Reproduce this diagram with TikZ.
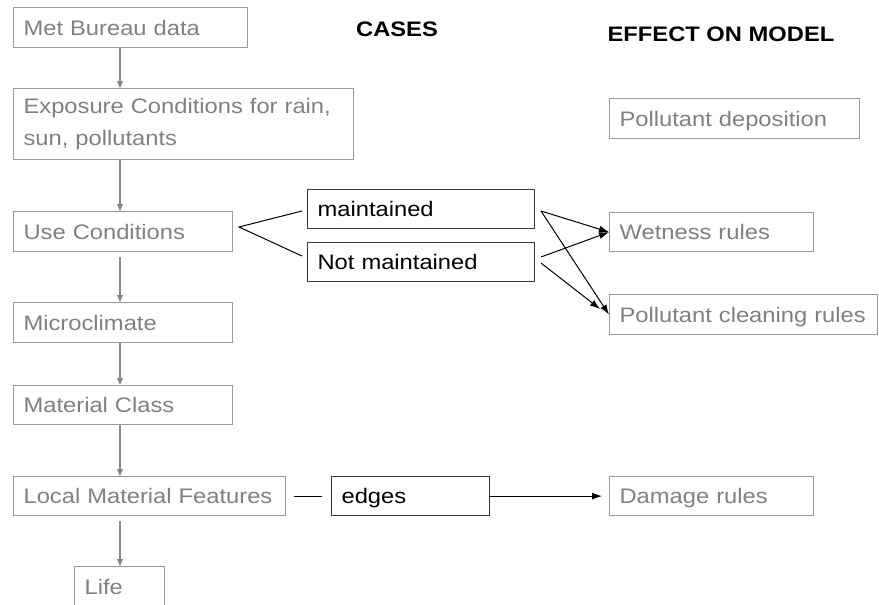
\documentclass[tikz,border=0pt]{standalone}
\usepackage{fontspec}
\setmainfont[FakeStretch=1.13]{Liberation Sans}
\usetikzlibrary{arrows.meta}
\definecolor{txtgray}{HTML}{808080}
\definecolor{boxgray}{HTML}{9A9A9A}
\definecolor{linegray}{HTML}{888888}
\definecolor{darkbox}{HTML}{3A3A3A}
\begin{document}
\begin{tikzpicture}[x=1pt,y=-1pt,
  font=\fontsize{21}{31.5}\selectfont,
  base/.style={anchor=north west, inner xsep=10pt, inner ysep=0pt, align=left,
    text height=15pt, text depth=0pt, line width=1.2pt},
  gbox/.style={base, draw=boxgray, text=txtgray},
  kbox/.style={base, draw=darkbox, text=black},
  head/.style={font=\fontsize{21}{24}\selectfont\bfseries},
  gflow/.style={draw=linegray, line width=1.2pt, -{Triangle[length=7pt,width=6pt]}},
  kline/.style={draw=black, line width=1pt},
  karrow/.style={kline, -{Latex[length=10pt,width=7pt]}}]
\useasboundingbox (0,0) rectangle (879,605);

% left column
\node[gbox, text width=214pt, minimum height=40pt] (met) at (13,7) {Met Bureau data};
\node[gbox, text width=320pt, minimum height=71pt, text height={}, text depth={}] (exp) at (13,88) {Exposure Conditions for rain,\\sun, pollutants};
\node[gbox, text width=199pt, minimum height=40pt] (use) at (13,211) {Use Conditions};
\node[gbox, text width=199pt, minimum height=40pt] (micro) at (13,302) {Microclimate};
\node[gbox, text width=199pt, minimum height=39pt] (matc) at (13,385) {Material Class};
\node[gbox, text width=252pt, minimum height=39pt] (local) at (13,476) {Local Material Features};
\node[gbox, text width=70pt, minimum height=40pt] (life) at (74,566) {Life};

% headers
\node[head] (cases) at (397,29) {CASES};
\node[head] (effect) at (721,34) {EFFECT ON MODEL};

% cases
\node[kbox, text width=207pt, minimum height=39pt] (maint) at (307,189) {maintained};
\node[kbox, text width=207pt, minimum height=39pt] (notm) at (307,242) {Not maintained};
\node[kbox, text width=138pt, minimum height=39pt] (edges) at (331,476) {edges};

% effects
\node[gbox, text width=230pt, minimum height=40pt] (pdep) at (609,98) {Pollutant deposition};
\node[gbox, text width=184pt, minimum height=39pt] (wet) at (609,212) {Wetness rules};
\node[gbox, text width=248pt, minimum height=40pt] (pclean) at (609,294) {Pollutant cleaning rules};
\node[gbox, text width=184pt, minimum height=39pt] (dmg) at (609,476) {Damage rules};

% flow arrows
\draw[gflow] ([xshift=107pt]met.south west) -- ([xshift=107pt]exp.north west);
\draw[gflow] ([xshift=107pt]exp.south west) -- ([xshift=107pt]use.north west);
\draw[gflow] ([xshift=107pt,yshift=-5pt]use.south west) -- ([xshift=107pt]micro.north west);
\draw[gflow] ([xshift=107pt]micro.south west) -- ([xshift=107pt]matc.north west);
\draw[gflow] ([xshift=107pt]matc.south west) -- ([xshift=107pt]local.north west);
\draw[gflow] ([xshift=107pt,yshift=-5pt]local.south west) -- ([xshift=46pt]life.north west);

% branch from Use Conditions
\coordinate (apex) at (239,227);
\coordinate (mu) at (302,211);
\coordinate (nu) at (302,256);
\draw[kline] (mu) -- (apex) -- (nu);

% arrows to effects
\coordinate (m1) at (541,211);
\coordinate (n1) at (541,257);
\coordinate (n2) at (541,263);
\coordinate (pc2) at (600,309);
\draw[karrow] (m1) -- (wet.west);
\draw[karrow] (m1) -- (pclean.west);
\draw[karrow] (n1) -- (wet.west);
\draw[karrow] (n2) -- (pc2);

\draw[kline] ([xshift=8pt]local.east) -- ([xshift=-9pt]edges.west);
\draw[karrow] (edges.east) -- ([xshift=-7pt]dmg.west);
\end{tikzpicture}
\end{document}
